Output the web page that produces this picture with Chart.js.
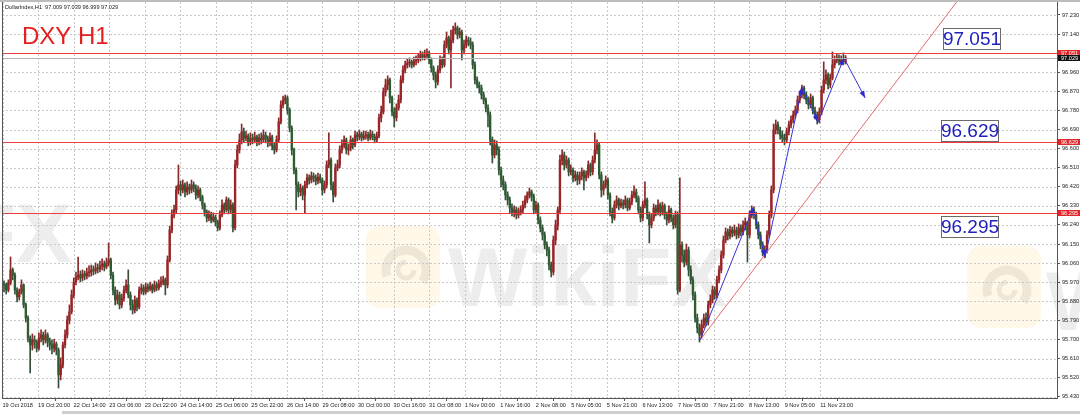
<!DOCTYPE html>
<html><head><meta charset="utf-8">
<script src="https://cdn.jsdelivr.net/npm/chart.js@4.4.0/dist/chart.umd.min.js"></script>
<style>html,body{margin:0;padding:0;background:#fff;overflow:hidden}#wrap{position:relative;width:1080px;height:414px}</style>
</head><body><div id="wrap"><canvas id="c" width="1080" height="414"></canvas></div>
<script>
const timeLabels = ["19 Oct 2018","19 Oct 20:00","22 Oct 14:00","23 Oct 06:00","23 Oct 22:00","24 Oct 14:00","25 Oct 06:00","25 Oct 22:00","26 Oct 14:00","29 Oct 08:00","30 Oct 00:00","30 Oct 16:00","31 Oct 08:00","1 Nov 00:00","1 Nov 16:00","2 Nov 08:00","5 Nov 05:00","5 Nov 21:00","6 Nov 13:00","7 Nov 05:00","7 Nov 21:00","8 Nov 13:00","9 Nov 05:00","11 Nov 23:00"];
// position of the first time label and spacing between labels, in bar-index units
const labelStart = -0.69;
const labelStep = 16.307;
const priceTicks = [95.430,95.520,95.610,95.700,95.790,95.880,95.970,96.060,96.150,96.240,96.330,96.420,96.510,96.600,96.690,96.780,96.870,96.960,97.050,97.140,97.230];

const opens = [
95.962,95.957,95.933,95.966,96.028,96.004,95.933,95.901,95.924,95.957,
95.863,95.801,95.707,95.674,95.698,95.688,95.659,95.707,95.721,95.698,
95.721,95.688,95.674,95.659,95.679,95.650,95.533,95.580,95.674,95.721,
95.792,95.830,95.910,95.971,95.995,96.004,95.990,96.009,95.999,96.014,
96.018,96.028,96.023,96.037,96.033,96.047,96.056,96.042,96.061,96.075,
96.004,95.933,95.886,95.910,95.863,95.896,95.933,95.957,95.910,95.863,
95.839,95.886,95.853,95.933,95.943,95.924,95.948,95.938,95.952,95.933,
95.957,95.943,95.962,95.971,95.981,95.957,96.075,96.216,96.287,96.311,
96.405,96.429,96.405,96.429,96.396,96.419,96.405,96.429,96.414,96.381,
96.405,96.372,96.334,96.301,96.273,96.287,96.263,96.277,96.254,96.226,
96.287,96.334,96.311,96.358,96.311,96.334,96.226,96.523,96.594,96.641,
96.679,96.650,96.660,96.631,96.650,96.641,96.655,96.631,96.650,96.641,
96.664,96.645,96.627,96.655,96.613,96.594,96.641,96.726,96.806,96.829,
96.839,96.782,96.697,96.594,96.499,96.429,96.396,96.414,96.381,96.429,
96.462,96.452,96.471,96.462,96.447,96.466,96.452,96.405,96.429,96.523,
96.546,96.429,96.381,96.509,96.523,96.594,96.617,96.641,96.594,96.603,
96.641,96.617,96.664,96.655,96.669,96.650,96.660,96.664,96.650,96.669,
96.655,96.641,96.660,96.745,96.773,96.867,96.900,96.924,96.839,96.773,
96.745,96.792,96.829,96.924,96.971,96.995,97.004,97.009,96.995,97.013,
97.018,97.028,97.042,97.032,97.037,97.051,97.018,96.980,96.947,96.914,
96.971,97.018,96.995,97.089,97.122,97.065,97.112,97.159,97.169,97.136,
97.150,97.065,97.089,97.112,97.103,97.089,96.995,96.924,96.900,96.886,
96.853,96.829,96.792,96.759,96.641,96.570,96.617,96.594,96.499,96.452,
96.429,96.381,96.358,96.320,96.301,96.311,96.287,96.301,96.311,96.334,
96.358,96.381,96.396,96.372,96.311,96.334,96.263,96.226,96.193,96.146,
96.122,96.051,96.018,96.169,96.240,96.311,96.546,96.570,96.523,96.546,
96.490,96.499,96.462,96.476,96.452,96.471,96.490,96.462,96.476,96.523,
96.490,96.546,96.594,96.617,96.476,96.405,96.429,96.452,96.381,96.301,
96.273,96.334,96.358,96.330,96.344,96.334,96.358,96.320,96.349,96.381,
96.396,96.367,96.311,96.273,96.334,96.358,96.287,96.240,96.273,96.320,
96.301,96.334,96.301,96.330,96.287,96.263,96.311,96.273,96.240,96.287,
95.933,96.146,96.098,96.065,96.122,96.028,95.981,95.910,95.801,95.754,
95.721,95.768,95.801,95.782,95.863,95.886,95.933,95.910,95.981,96.028,
96.098,96.169,96.207,96.188,96.216,96.202,96.216,96.193,96.226,96.207,
96.240,96.254,96.193,96.287,96.311,96.287,96.240,96.193,96.146,96.112,
96.122,96.193,96.287,96.405,96.688,96.712,96.688,96.664,96.650,96.641,
96.679,96.712,96.735,96.759,96.782,96.829,96.853,96.886,96.853,96.829,
96.806,96.839,96.782,96.759,96.735,96.773,96.877,96.924,96.947,96.900,
96.933,96.995,97.018,97.028,97.009,97.018,97.009];

const highs = [
95.976,95.966,95.981,96.089,96.037,96.014,95.943,95.938,95.981,95.962,
95.872,95.811,95.717,95.726,95.717,95.698,95.731,95.745,95.735,95.745,
95.731,95.707,95.698,95.702,95.688,95.660,95.613,95.688,95.745,95.811,
95.863,95.933,95.990,96.018,96.089,96.023,96.028,96.023,96.037,96.047,
96.051,96.047,96.061,96.056,96.070,96.080,96.070,96.084,96.155,96.084,
96.018,95.948,95.933,95.924,95.914,95.952,95.981,96.028,95.924,95.886,
95.905,95.896,95.948,95.962,95.957,95.966,95.962,95.971,95.962,95.976,
95.971,95.981,95.995,95.999,95.990,96.094,96.235,96.311,96.334,96.424,
96.523,96.447,96.452,96.438,96.443,96.433,96.452,96.443,96.429,96.424,
96.414,96.381,96.344,96.311,96.306,96.301,96.297,96.287,96.263,96.306,
96.358,96.344,96.372,96.367,96.358,96.344,96.546,96.617,96.669,96.716,
96.697,96.683,96.669,96.674,96.669,96.678,96.664,96.669,96.674,96.688,
96.678,96.660,96.674,96.664,96.627,96.660,96.745,96.825,96.848,96.853,
96.848,96.792,96.707,96.603,96.509,96.443,96.433,96.424,96.447,96.480,
96.476,96.490,96.485,96.476,96.485,96.480,96.462,96.447,96.542,96.674,
96.556,96.443,96.528,96.546,96.613,96.641,96.660,96.650,96.622,96.660,
96.650,96.683,96.678,96.688,96.678,96.683,96.683,96.678,96.688,96.683,
96.669,96.678,96.763,96.801,96.886,96.928,96.943,96.933,96.848,96.792,
96.811,96.853,96.943,96.990,97.013,97.023,97.028,97.018,97.032,97.037,
97.046,97.060,97.056,97.065,97.070,97.060,97.028,96.990,96.961,96.990,
97.037,97.032,97.108,97.150,97.131,97.159,97.178,97.193,97.178,97.169,
97.159,97.112,97.131,97.126,97.122,97.103,97.009,96.938,96.914,96.900,
96.867,96.839,96.806,96.773,96.655,96.641,96.636,96.608,96.513,96.471,
96.443,96.396,96.372,96.339,96.330,96.325,96.320,96.330,96.353,96.377,
96.396,96.414,96.405,96.386,96.353,96.344,96.278,96.240,96.207,96.160,
96.136,96.065,96.188,96.263,96.325,96.570,96.594,96.584,96.565,96.556,
96.523,96.509,96.495,96.490,96.490,96.509,96.499,96.495,96.542,96.532,
96.565,96.674,96.641,96.627,96.490,96.447,96.471,96.462,96.391,96.320,
96.353,96.377,96.367,96.362,96.358,96.377,96.367,96.367,96.400,96.424,
96.410,96.377,96.325,96.353,96.443,96.367,96.301,96.292,96.339,96.334,
96.358,96.344,96.348,96.339,96.301,96.330,96.320,96.287,96.306,96.301,
96.462,96.160,96.122,96.150,96.136,96.047,95.995,95.924,95.820,95.773,
95.792,95.820,95.825,95.881,95.910,95.952,95.948,95.999,96.047,96.117,
96.188,96.226,96.221,96.235,96.230,96.240,96.230,96.245,96.240,96.259,
96.273,96.254,96.306,96.330,96.325,96.301,96.254,96.207,96.160,96.141,
96.212,96.306,96.424,96.716,96.735,96.726,96.702,96.683,96.669,96.697,
96.730,96.754,96.778,96.801,96.848,96.872,96.900,96.895,96.867,96.844,
96.858,96.848,96.796,96.773,96.792,96.895,97.009,96.971,96.957,96.952,
97.056,97.037,97.046,97.042,97.037,97.051,97.039];

const lows = [
95.924,95.914,95.924,95.957,95.981,95.914,95.877,95.886,95.914,95.849,
95.782,95.688,95.542,95.650,95.659,95.641,95.650,95.688,95.674,95.683,
95.665,95.650,95.632,95.641,95.627,95.471,95.509,95.566,95.660,95.707,
95.773,95.820,95.896,95.957,95.981,95.971,95.976,95.981,95.985,95.995,
95.999,96.004,96.009,96.014,96.018,96.028,96.023,96.033,96.047,95.985,
95.910,95.863,95.867,95.844,95.849,95.881,95.919,95.896,95.839,95.820,
95.825,95.834,95.844,95.914,95.910,95.914,95.924,95.929,95.919,95.924,
95.929,95.933,95.948,95.957,95.910,95.943,96.065,96.202,96.273,96.297,
96.386,96.377,96.391,96.372,96.381,96.386,96.391,96.396,96.362,96.367,
96.353,96.315,96.282,96.254,96.259,96.249,96.254,96.235,96.212,96.216,
96.278,96.292,96.301,96.292,96.297,96.207,96.216,96.509,96.579,96.622,
96.631,96.636,96.613,96.617,96.622,96.627,96.613,96.617,96.622,96.631,
96.627,96.608,96.613,96.594,96.575,96.584,96.631,96.716,96.792,96.811,
96.763,96.679,96.570,96.480,96.311,96.372,96.377,96.358,96.297,96.414,
96.433,96.438,96.443,96.429,96.433,96.438,96.381,96.391,96.414,96.509,
96.405,96.348,96.372,96.495,96.509,96.579,96.603,96.575,96.570,96.589,
96.598,96.608,96.636,96.641,96.636,96.641,96.645,96.636,96.641,96.641,
96.627,96.631,96.650,96.726,96.763,96.848,96.877,96.815,96.754,96.702,
96.730,96.782,96.815,96.910,96.957,96.980,96.985,96.980,96.985,96.995,
97.004,97.013,97.018,97.018,97.023,96.999,96.961,96.924,96.886,96.900,
96.957,96.980,96.985,97.075,97.046,96.886,97.098,97.141,97.117,97.122,
97.018,97.046,97.075,97.084,97.070,96.976,96.905,96.886,96.862,96.834,
96.811,96.773,96.702,96.617,96.532,96.556,96.570,96.476,96.419,96.405,
96.358,96.334,96.297,96.282,96.278,96.268,96.273,96.287,96.297,96.320,
96.344,96.367,96.353,96.292,96.297,96.245,96.207,96.169,96.127,96.094,
96.028,95.995,96.004,96.146,96.216,96.292,96.523,96.499,96.509,96.471,
96.476,96.443,96.447,96.429,96.433,96.452,96.405,96.447,96.462,96.471,
96.476,96.532,96.575,96.457,96.372,96.381,96.414,96.362,96.282,96.249,
96.263,96.320,96.311,96.320,96.315,96.320,96.306,96.311,96.334,96.367,
96.348,96.292,96.254,96.259,96.320,96.268,96.155,96.226,96.259,96.282,
96.287,96.282,96.287,96.268,96.240,96.249,96.254,96.221,96.226,95.914,
95.924,96.065,96.042,96.051,95.999,95.962,95.886,95.782,95.731,95.688,
95.707,95.754,95.764,95.768,95.849,95.872,95.891,95.896,95.966,96.014,
96.084,96.155,96.169,96.174,96.183,96.188,96.174,96.179,96.188,96.193,
96.216,96.065,96.179,96.273,96.268,96.221,96.174,96.127,96.094,96.084,
96.108,96.179,96.273,96.391,96.669,96.669,96.645,96.631,96.617,96.627,
96.664,96.697,96.721,96.745,96.768,96.815,96.839,96.834,96.811,96.787,
96.792,96.763,96.740,96.716,96.721,96.759,96.862,96.905,96.881,96.886,
96.924,96.980,97.004,96.995,96.995,96.999,96.999];

const closes = [
95.957,95.933,95.966,96.028,96.004,95.933,95.901,95.924,95.957,95.863,
95.801,95.707,95.674,95.698,95.688,95.659,95.707,95.721,95.698,95.721,
95.688,95.674,95.659,95.679,95.650,95.533,95.580,95.674,95.721,95.792,
95.830,95.910,95.971,95.995,96.004,95.990,96.009,95.999,96.014,96.018,
96.028,96.023,96.037,96.033,96.047,96.056,96.042,96.061,96.075,96.004,
95.933,95.886,95.910,95.863,95.896,95.933,95.957,95.910,95.863,95.839,
95.886,95.853,95.933,95.943,95.924,95.948,95.938,95.952,95.933,95.957,
95.943,95.962,95.971,95.981,95.957,96.075,96.216,96.287,96.311,96.405,
96.429,96.405,96.429,96.396,96.419,96.405,96.429,96.414,96.381,96.405,
96.372,96.334,96.301,96.273,96.287,96.263,96.277,96.254,96.226,96.287,
96.334,96.311,96.358,96.311,96.334,96.226,96.523,96.594,96.641,96.679,
96.650,96.660,96.631,96.650,96.641,96.655,96.631,96.650,96.641,96.664,
96.645,96.627,96.655,96.613,96.594,96.641,96.726,96.806,96.829,96.839,
96.782,96.697,96.594,96.499,96.429,96.396,96.414,96.381,96.429,96.462,
96.452,96.471,96.462,96.447,96.466,96.452,96.405,96.429,96.523,96.546,
96.429,96.381,96.509,96.523,96.594,96.617,96.641,96.594,96.603,96.641,
96.617,96.664,96.655,96.669,96.650,96.660,96.664,96.650,96.669,96.655,
96.641,96.660,96.745,96.773,96.867,96.900,96.924,96.839,96.773,96.745,
96.792,96.829,96.924,96.971,96.995,97.004,97.009,96.995,97.013,97.018,
97.028,97.042,97.032,97.037,97.051,97.018,96.980,96.947,96.914,96.971,
97.018,96.995,97.089,97.122,97.065,97.112,97.159,97.169,97.136,97.150,
97.065,97.089,97.112,97.103,97.089,96.995,96.924,96.900,96.886,96.853,
96.829,96.792,96.759,96.641,96.570,96.617,96.594,96.499,96.452,96.429,
96.381,96.358,96.320,96.301,96.311,96.287,96.301,96.311,96.334,96.358,
96.381,96.396,96.372,96.311,96.334,96.263,96.226,96.193,96.146,96.122,
96.051,96.018,96.169,96.240,96.311,96.546,96.570,96.523,96.546,96.490,
96.499,96.462,96.476,96.452,96.471,96.490,96.462,96.476,96.523,96.490,
96.546,96.594,96.617,96.476,96.405,96.429,96.452,96.381,96.301,96.273,
96.334,96.358,96.330,96.344,96.334,96.358,96.320,96.349,96.381,96.396,
96.367,96.311,96.273,96.334,96.358,96.287,96.240,96.273,96.320,96.301,
96.334,96.301,96.330,96.287,96.263,96.311,96.273,96.240,96.287,95.933,
96.146,96.098,96.065,96.122,96.028,95.981,95.910,95.801,95.754,95.721,
95.768,95.801,95.782,95.863,95.886,95.933,95.910,95.981,96.028,96.098,
96.169,96.207,96.188,96.216,96.202,96.216,96.193,96.226,96.207,96.240,
96.254,96.193,96.287,96.311,96.287,96.240,96.193,96.146,96.112,96.122,
96.193,96.287,96.405,96.688,96.712,96.688,96.664,96.650,96.641,96.679,
96.712,96.735,96.759,96.782,96.829,96.853,96.886,96.853,96.829,96.806,
96.839,96.782,96.759,96.735,96.773,96.877,96.924,96.947,96.900,96.933,
96.995,97.018,97.028,97.009,97.018,97.009,97.029];

const levels = [97.051, 96.629, 96.295];
const lastPrice = 97.029;
const headerText = "DollarIndex,H1  97.009 97.039 96.999 97.029";
const titleText = "DXY H1";
// drawn objects, in chart coordinates (bar index, price)
const trendIdx = [319.3, 483];
const trendPrice = [95.697, 97.915];
const waveIdx = [319.3, 343.6, 349.1, 366.1, 373.4, 385.3, 395.0];
const wavePrice = [95.697, 96.320, 96.089, 96.890, 96.725, 97.027, 96.839];

const BULL = '#9c2427', BEAR = '#2d5d31', BULLW = '#862a2a', BEARW = '#34503a';
const LEVEL = 'rgb(240,60,60)';
const FONT = 'Liberation Sans';

const bodyData = closes.map((c, i) => ({x: i, y: [opens[i], c]}));
const wickData = closes.map((c, i) => ({x: i, y: [Math.min(lows[i], opens[i], c), Math.max(highs[i], opens[i], c)]}));
const isBull = i => closes[i] >= opens[i];
const tickValues = timeLabels.map((_, k) => labelStart + k * labelStep);

const overlay = {
  id: 'overlay',
  beforeDatasetsDraw(chart) {
    const {ctx, chartArea: a, scales: {x, y}} = chart;
    ctx.save();
    // watermarks
    ctx.fillStyle = 'rgba(0,0,0,0.07)';
    ctx.font = 'bold 84px ' + FONT;
    ctx.textBaseline = 'alphabetic';
    ctx.textAlign = 'left';
    ctx.fillText('WikiFX', 448, 306);
    ctx.textAlign = 'right';
    ctx.fillText('WikiFX', 72, 262);
    ctx.textAlign = 'left';
    ctx.fillText('WikiFX', 1046, 330);
    const logo = (lx, ly) => {
      ctx.fillStyle = 'rgba(255,214,110,0.16)';
      ctx.beginPath(); ctx.roundRect(lx, ly, 74, 82, 14); ctx.fill();
      ctx.strokeStyle = 'rgba(0,0,0,0.065)'; ctx.lineWidth = 9;
      ctx.beginPath(); ctx.arc(lx + 40, ly + 44, 20, Math.PI * 0.9, Math.PI * 2.2); ctx.stroke();
      ctx.lineWidth = 5;
      ctx.beginPath(); ctx.arc(lx + 40, ly + 44, 8, 0, Math.PI * 1.5); ctx.stroke();
    };
    logo(366, 226); logo(967, 246);
    // grid
    ctx.strokeStyle = '#c8c8c8'; ctx.lineWidth = 1; ctx.setLineDash([2, 2]);
    priceTicks.forEach(v => {
      const py = Math.round(y.getPixelForValue(v)) + 0.5;
      ctx.beginPath(); ctx.moveTo(a.left, py); ctx.lineTo(a.right, py); ctx.stroke();
    });
    tickValues.forEach(v => {
      const px = Math.round(x.getPixelForValue(v)) + 0.5;
      ctx.beginPath(); ctx.moveTo(px, a.top); ctx.lineTo(px, a.bottom); ctx.stroke();
    });
    ctx.restore();
  },
  afterDatasetsDraw(chart) {
    const {ctx, chartArea: a, scales: {x, y}} = chart;
    ctx.save();
    // last price line
    ctx.fillStyle = '#b4b4b4';
    ctx.fillRect(a.left, Math.round(y.getPixelForValue(lastPrice)), a.right - a.left, 1);
    // arrow heads on the wave
    ctx.fillStyle = '#2b2bd0';
    ctx.beginPath(); ctx.rect(a.left, a.top, a.right - a.left, a.bottom - a.top); ctx.clip();
    for (let k = 1; k < waveIdx.length; k++) {
      const x0 = x.getPixelForValue(waveIdx[k - 1]), y0 = y.getPixelForValue(wavePrice[k - 1]);
      const x1 = x.getPixelForValue(waveIdx[k]), y1 = y.getPixelForValue(wavePrice[k]);
      const ang = Math.atan2(y1 - y0, x1 - x0);
      const L = 7, W = 2.6;
      ctx.beginPath();
      ctx.moveTo(x1, y1);
      ctx.lineTo(x1 - L * Math.cos(ang) + W * Math.sin(ang), y1 - L * Math.sin(ang) - W * Math.cos(ang));
      ctx.lineTo(x1 - L * Math.cos(ang) - W * Math.sin(ang), y1 - L * Math.sin(ang) + W * Math.cos(ang));
      ctx.closePath(); ctx.fill();
    }
    ctx.restore();
  },
  afterDraw(chart) {
    const {ctx, chartArea: a, scales: {y}} = chart;
    ctx.save();
    // horizontal level lines, on top of everything in the plot
    levels.forEach(v => {
      const ly = Math.round(y.getPixelForValue(v));
      ctx.fillStyle = LEVEL;
      ctx.fillRect(a.left + 1, ly, a.right - a.left - 1, 1);
    });
    // window frame
    ctx.fillStyle = '#bcbcbc'; ctx.fillRect(0, 0, 1080, 2);
    ctx.fillStyle = '#cfcfcf'; ctx.fillRect(62, 411, 1018, 3);
    ctx.fillStyle = '#555';
    ctx.fillRect(a.left, a.top, 1, a.bottom - a.top);
    // header
    ctx.fillStyle = '#222'; ctx.font = '5.6px ' + FONT; ctx.textAlign = 'left'; ctx.textBaseline = 'middle';
    ctx.fillText(headerText, 5, 7);
    // title
    ctx.fillStyle = '#e3201f'; ctx.font = '24px ' + FONT; ctx.textBaseline = 'alphabetic';
    ctx.fillText(titleText, 22, 44);
    // value boxes
    const boxes = [[943, 28], [941, 120], [941, 216]];
    levels.forEach((v, k) => {
      const [bx, by] = boxes[k];
      ctx.fillStyle = '#fff'; ctx.fillRect(bx, by, 57, 21);
      ctx.strokeStyle = '#6a6a6a'; ctx.lineWidth = 1; ctx.strokeRect(bx + 0.5, by + 0.5, 57, 21);
      ctx.fillStyle = '#2020bd'; ctx.font = '19px ' + FONT; ctx.textAlign = 'center'; ctx.textBaseline = 'middle';
      ctx.fillText(v.toFixed(3), bx + 29, by + 11.5);
    });
    // right axis tags
    const tag = (v, bg) => {
      const ty = y.getPixelForValue(v);
      ctx.fillStyle = bg; ctx.fillRect(a.right + 1, Math.round(ty - 3), 22, 6);
      ctx.fillStyle = '#fff'; ctx.font = '5.6px ' + FONT; ctx.textAlign = 'left'; ctx.textBaseline = 'middle';
      ctx.fillText(v.toFixed(3), a.right + 4, Math.round(ty - 3) + 3.2);
    };
    levels.forEach(v => tag(v, '#e0282a'));
    tag(lastPrice, '#111');
    ctx.restore();
  }
};

new Chart(document.getElementById('c'), {
  type: 'bar',
  data: {
    datasets: [
      {type: 'bar', data: wickData, grouped: false, barThickness: 1, order: 4,
       backgroundColor: c => isBull(c.dataIndex) ? BULLW : BEARW},
      {type: 'bar', data: bodyData, grouped: false, barThickness: 1.7, minBarLength: 1, order: 3,
       backgroundColor: c => isBull(c.dataIndex) ? BULL : BEAR},
      {type: 'line', data: trendIdx.map((v, k) => ({x: v, y: trendPrice[k]})), borderColor: '#e26b6b',
       borderWidth: 1, pointRadius: 0, tension: 0, fill: false, order: 2},
      {type: 'line', data: waveIdx.map((v, k) => ({x: v, y: wavePrice[k]})), borderColor: '#3434d4',
       borderWidth: 1, pointRadius: 0, tension: 0, fill: false, order: 1}
    ]
  },
  options: {
    responsive: false, animation: false, events: [],
    layout: {padding: {top: 2, left: 2, right: 0, bottom: 0}},
    plugins: {legend: {display: false}, tooltip: {enabled: false}},
    scales: {
      x: {
        type: 'linear', min: -0.92, max: 483.0, offset: false,
        grid: {display: true, drawOnChartArea: false, drawTicks: true, tickLength: 3, color: '#555'},
        border: {display: true, color: '#555'},
        afterBuildTicks: s => { s.ticks = tickValues.map(v => ({value: v})); },
        ticks: {autoSkip: false, maxRotation: 0, minRotation: 0, align: 'start', padding: 1,
          font: {family: FONT, size: 5.6}, color: '#222',
          callback: (v, idx) => timeLabels[idx] !== undefined ? timeLabels[idx] : ''},
        afterFit: s => { s.height = 16; s.paddingLeft = 0; s.paddingRight = 0; }
      },
      y: {
        type: 'linear', position: 'right', min: 95.4239, max: 97.2913,
        grid: {display: true, drawOnChartArea: false, drawTicks: true, tickLength: 3, color: '#555'},
        border: {display: true, color: '#555'},
        afterBuildTicks: s => { s.ticks = priceTicks.map(v => ({value: v})); },
        ticks: {autoSkip: false, padding: 2, font: {family: FONT, size: 5.6}, color: '#222',
          callback: v => v.toFixed(3)},
        afterFit: s => { s.width = 23; s.paddingTop = 0; s.paddingBottom = 0; }
      }
    }
  },
  plugins: [overlay]
});
</script>
</body></html>
